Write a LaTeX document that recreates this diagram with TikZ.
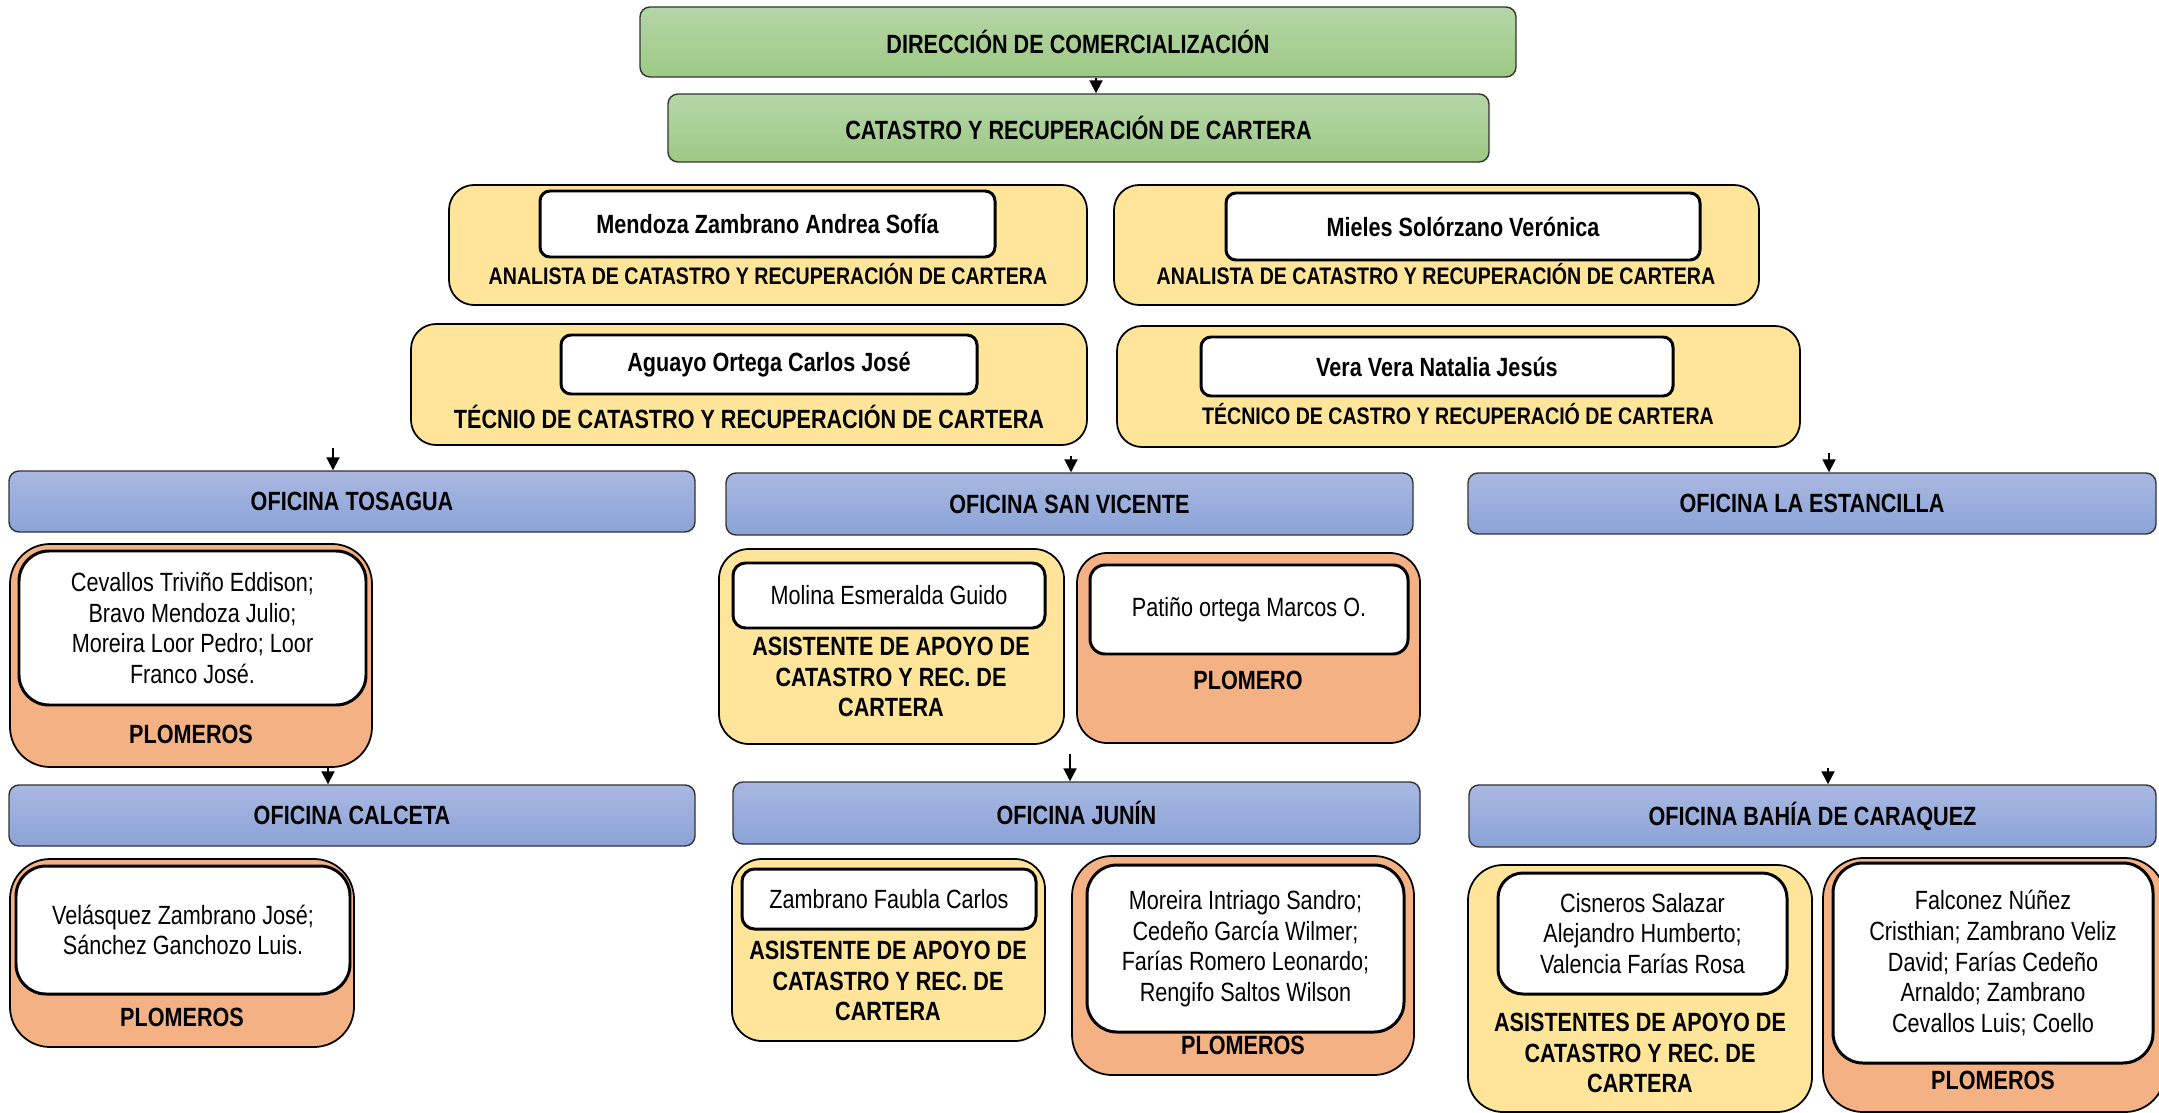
\documentclass[tikz,border=0pt]{standalone}
\usepackage{fontspec}
\setmainfont{Liberation Sans}[FakeStretch=0.82]
\usepackage{tikz}
\usetikzlibrary{arrows.meta}

\definecolor{verdeA}{HTML}{B5D6A7}
\definecolor{verdeB}{HTML}{9DC985}
\definecolor{azulA}{HTML}{A9B8E1}
\definecolor{azulB}{HTML}{8BA3D8}
\definecolor{amarillo}{HTML}{FFE599}
\definecolor{naranja}{HTML}{F4B183}

\newcommand{\fuenteG}{\fontsize{15}{17.4}\selectfont}
\newcommand{\fuenteP}{\fontsize{13.6}{15.6}\selectfont}

\begin{document}
\begin{tikzpicture}[x=0.2mm,y=-0.2mm,
	area/.style args={#1/#2/#3/#4}{minimum width={(#3-#1)*0.2mm},minimum height={(#4-#2)*0.2mm},at={({(#1+#3)/2},{(#2+#4)/2})}},
	jefe/.style={draw=black!80,line width=0.8pt,rounded corners=2mm,top color=verdeA,bottom color=verdeB,inner sep=0pt,font=\bfseries\fuenteG},
	oficina/.style={draw=black!80,line width=0.8pt,rounded corners=2mm,top color=azulA,bottom color=azulB,inner sep=0pt,font=\bfseries\fuenteG},
	cargo/.style={draw=black,line width=1pt,rounded corners=5mm,fill=amarillo,inner sep=0pt},
	plomo/.style={draw=black,line width=1pt,rounded corners=8mm,fill=naranja,inner sep=0pt},
	nombre/.style={draw=black,line width=1.7pt,rounded corners=2mm,fill=white,inner sep=0pt,align=center,font=\bfseries\fuenteG},
	lista/.style={draw=black,line width=1.7pt,rounded corners=6mm,fill=white,inner sep=0pt,align=center,font=\fuenteG},
	rol/.style={inner sep=0pt,align=center,font=\bfseries\fuenteG},
	flecha/.style={-{Triangle[length=2.6mm,width=2.6mm]},line width=1.1pt}]
	\useasboundingbox (0,0) rectangle (2159,1113);

	% direccion
	\node[jefe,area=640/7/1516/77] (dir) {DIRECCIÓN DE COMERCIALIZACIÓN};
	\node[jefe,area=668/94/1489/162] (cat) {CATASTRO Y RECUPERACIÓN DE CARTERA};
	\coordinate (ejeA) at (1096,0);
	\draw[flecha] (dir.south -| ejeA) -- (cat.north -| ejeA);

	% analistas y tecnicos
	\node[cargo,area=449/185/1087/305] (mendozaBox) {};
	\node[nombre,area=540/191/995/257] (mendoza) {Mendoza Zambrano Andrea Sofía};
	\node[rol,font=\bfseries\fuenteP] (mendozaRol) at (768,274) {ANALISTA DE CATASTRO Y RECUPERACIÓN DE CARTERA};
	\node[cargo,area=1114/185/1759/305] (mielesBox) {};
	\node[nombre,area=1226/193/1700/260] (mieles) {Mieles Solórzano Verónica};
	\node[rol,font=\bfseries\fuenteP] (mielesRol) at (1436,274) {ANALISTA DE CATASTRO Y RECUPERACIÓN DE CARTERA};
	\node[cargo,area=411/324/1087/445] (aguayoBox) {};
	\node[nombre,area=561/335/977/394] (aguayo) {Aguayo Ortega Carlos José};
	\node[rol] (aguayoRol) at (749,417) {TÉCNIO DE CATASTRO Y RECUPERACIÓN DE CARTERA};
	\node[cargo,area=1117/326/1800/447] (veraBox) {};
	\node[nombre,area=1201/337/1673/396] (vera) {Vera Vera Natalia Jesús};
	\node[rol,font=\bfseries\fuenteP] (veraRol) at (1458,414) {TÉCNICO DE CASTRO Y RECUPERACIÓ DE CARTERA};

	% oficinas
	\node[oficina,area=9/471/695/532] (tosagua) {OFICINA TOSAGUA};
	\node[oficina,area=726/473/1413/535] (sanvicente) {OFICINA SAN VICENTE};
	\node[oficina,area=1468/473/2156/534] (estancilla) {OFICINA LA ESTANCILLA};
	\node[oficina,area=9/785/695/846] (calceta) {OFICINA CALCETA};
	\node[oficina,area=733/782/1420/844] (junin) {OFICINA JUNÍN};
	\node[oficina,area=1469/785/2156/847] (bahia) {OFICINA BAHÍA DE CARAQUEZ};

	% tosagua y calceta
	\node[plomo,area=10/544/372/767] (tosPlomBox) {};
	\node[lista,area=19/551/366/705] (tosPlom) {Cevallos Triviño Eddison;\\Bravo Mendoza Julio;\\Moreira Loor Pedro; Loor\\Franco José.};
	\node[rol] (tosPlomRol) at (191,734) {PLOMEROS};
	\node[plomo,area=10/859/354/1047] (calPlomBox) {};
	\node[lista,area=16/866/350/994] (calPlom) {Velásquez Zambrano José;\\Sánchez Ganchozo Luis.};
	\node[rol] (calPlomRol) at (182,1017) {PLOMEROS};

	% san vicente y junin
	\node[cargo,rounded corners=6mm,area=719/549/1064/744] (molinaBox) {};
	\node[nombre,font=\fuenteG,rounded corners=2.5mm,area=733/563/1045/628] (molina) {Molina Esmeralda Guido};
	\node[rol] (molinaRol) at (891,677) {ASISTENTE DE APOYO DE\\CATASTRO Y REC. DE\\CARTERA};
	\node[plomo,rounded corners=6mm,area=1077/553/1420/743] (patinoBox) {};
	\node[nombre,font=\fuenteG,rounded corners=3mm,area=1090/565/1408/654] (patino) {Patiño ortega Marcos O.};
	\node[rol] (patinoRol) at (1248,680) {PLOMERO};
	\node[cargo,rounded corners=6mm,area=732/859/1045/1041] (junAsisBox) {};
	\node[nombre,font=\fuenteG,rounded corners=2.5mm,area=742/869/1036/929] (junAsis) {Zambrano Faubla Carlos};
	\node[rol] (junAsisRol) at (888,981) {ASISTENTE DE APOYO DE\\CATASTRO Y REC. DE\\CARTERA};
	\node[plomo,area=1072/856/1414/1075] (junPlomBox) {};
	\node[lista,area=1087/865/1404/1032] (junPlom) {Moreira Intriago Sandro;\\Cedeño García Wilmer;\\Farías Romero Leonardo;\\Rengifo Saltos Wilson};
	\node[rol] (junPlomRol) at (1243,1045) {PLOMEROS};

	% bahia de caraquez
	\node[cargo,rounded corners=7mm,area=1468/865/1812/1112] (bahAsisBox) {};
	\node[lista,rounded corners=5mm,area=1498/873/1787/994] (bahAsis) {Cisneros Salazar\\Alejandro Humberto;\\Valencia Farías Rosa};
	\node[rol] (bahAsisRol) at (1640,1053) {ASISTENTES DE APOYO DE\\CATASTRO Y REC. DE\\CARTERA};
	\node[plomo,area=1823/858/2165/1112] (bahPlomBox) {};
	\node[lista,area=1833/863/2153/1063] (bahPlom) {Falconez Núñez\\Cristhian; Zambrano Veliz\\David; Farías Cedeño\\Arnaldo; Zambrano\\Cevallos Luis; Coello};
	\node[rol] (bahPlomRol) at (1993,1080) {PLOMEROS};

	% flechas
	\coordinate (pT) at (333,448);
	\coordinate (pS) at (1071,456);
	\coordinate (pE) at (1829,453);
	\coordinate (pC) at (328,0);
	\coordinate (pJ) at (1070,754);
	\coordinate (pB) at (1828,768);
	\draw[flecha] (pT) -- (tosagua.north -| pT);
	\draw[flecha] (pS) -- (sanvicente.north -| pS);
	\draw[flecha] (pE) -- (estancilla.north -| pE);
	\draw[flecha] (tosPlomBox.south -| pC) -- (calceta.north -| pC);
	\draw[flecha] (pJ) -- (junin.north -| pJ);
	\draw[flecha] (pB) -- (bahia.north -| pB);
\end{tikzpicture}
\end{document}
